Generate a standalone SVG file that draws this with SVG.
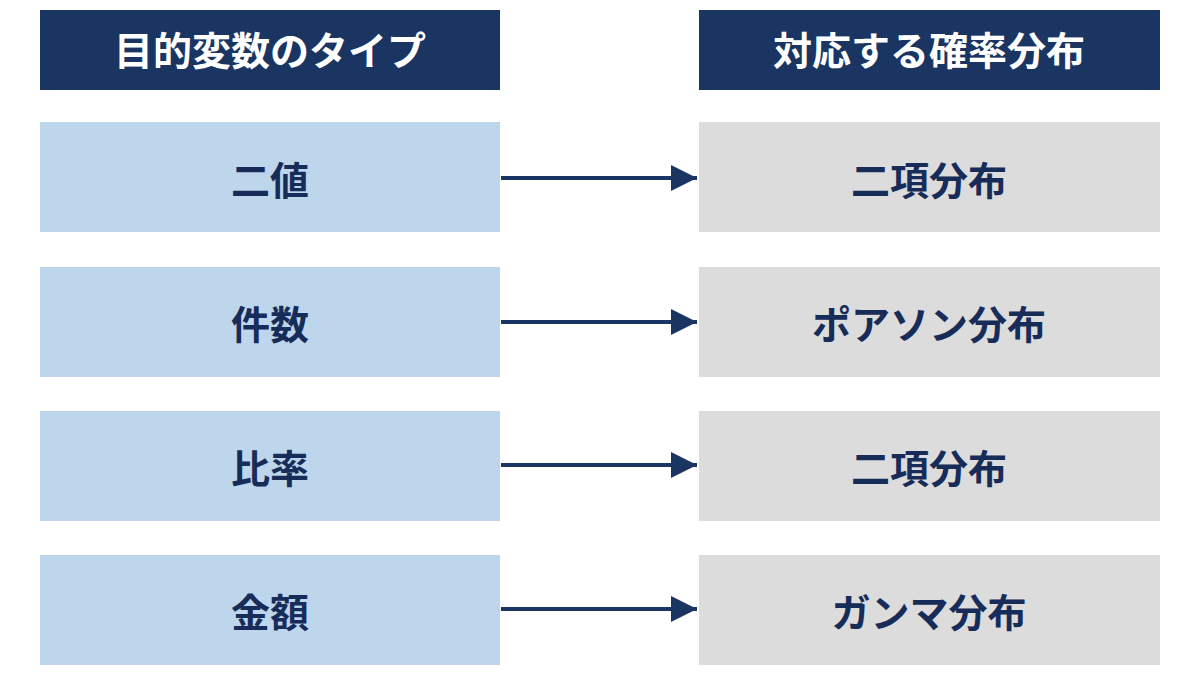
<svg xmlns="http://www.w3.org/2000/svg" width="1200" height="675" viewBox="0 0 1200 675">
<style>
.hd{fill:#1b3563}
.l{fill:#bdd6ec}
.r{fill:#dcdcdc}
.ht{fill:#fff;font-family:"Noto Sans CJK JP",sans-serif;font-weight:700;font-size:39px;text-anchor:middle;dominant-baseline:central}
.t{fill:#172c58;font-family:"Noto Sans CJK JP",sans-serif;font-weight:700;font-size:39px;text-anchor:middle;dominant-baseline:central}
.c{stroke:#1b3563;stroke-width:4;fill:none}
</style>
<defs>
<marker id="b" markerWidth="26" markerHeight="26" refX="26" refY="13" orient="auto" markerUnits="userSpaceOnUse"><path d="M0,0L26,13L0,26z" fill="#1b3563"/></marker></defs>
<rect width="1200" height="675" fill="#fff"/>
<g id="h1"><rect class="hd" x="40" y="10" width="460" height="80"/><text class="ht" x="270" y="48">目的変数のタイプ</text></g>
<g id="h2"><rect class="hd" x="699" y="10" width="461" height="80"/><text class="ht" x="929" y="48">対応する確率分布</text></g>
<g id="l1"><rect class="l" x="40" y="122" width="460" height="110"/><text class="t" x="270" y="178">二値</text></g>
<g id="l2"><rect class="l" x="40" y="267" width="460" height="110"/><text class="t" x="270" y="322">件数</text></g>
<g id="l3"><rect class="l" x="40" y="411" width="460" height="110"/><text class="t" x="270" y="466">比率</text></g>
<g id="l4"><rect class="l" x="40" y="555" width="460" height="110"/><text class="t" x="270" y="610">金額</text></g>
<g id="r1"><rect class="r" x="699" y="122" width="461" height="110"/><text class="t" x="929" y="178">二項分布</text></g>
<g id="r2"><rect class="r" x="699" y="267" width="461" height="110"/><text class="t" x="929" y="322">ポアソン分布</text></g>
<g id="r3"><rect class="r" x="699" y="411" width="461" height="110"/><text class="t" x="929" y="466">二項分布</text></g>
<g id="r4"><rect class="r" x="699" y="555" width="461" height="110"/><text class="t" x="929" y="610">ガンマ分布</text></g>
<g id="connectors">
<line class="c" x1="501" y1="178" x2="697" y2="178" marker-end="url(#b)"/>
<line class="c" x1="501" y1="322" x2="697" y2="322" marker-end="url(#b)"/>
<line class="c" x1="501" y1="465" x2="697" y2="465" marker-end="url(#b)"/>
<line class="c" x1="501" y1="609" x2="697" y2="609" marker-end="url(#b)"/>
</g>
</svg>
